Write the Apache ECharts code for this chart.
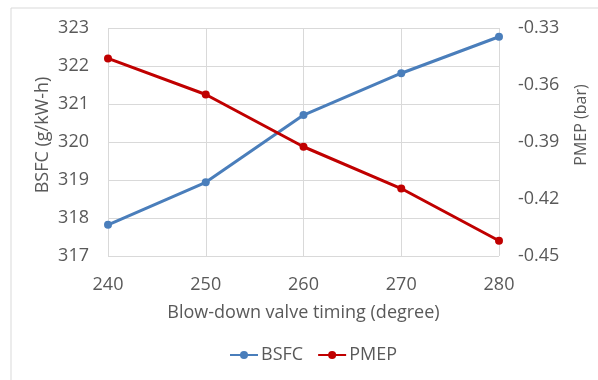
<!DOCTYPE html>
<html>
<head>
<meta charset="utf-8">
<script src="https://cdn.jsdelivr.net/npm/echarts@6/dist/echarts.min.js"></script>
<style>
  html, body { margin: 0; padding: 0; background: #fff; }
  #chart { width: 598px; height: 380px; }
</style>
</head>
<body>
<div id="chart"></div>
<script>
// Blow-down valve timing sweep: fuel consumption vs pumping loss
const timings = [240, 250, 260, 270, 280];
const bsfc = [317.82, 318.94, 320.71, 321.81, 322.77];
const pmep = [-0.346, -0.365, -0.3925, -0.4145, -0.442];

const textColor = '#595959';
const gridColor = '#d9d9d9';
const fontFamily = '"Open Sans", "Noto Sans", sans-serif';

const chart = echarts.init(document.getElementById('chart'), null, { renderer: 'canvas' });

chart.setOption({
  animation: false,
  textStyle: { fontFamily: fontFamily, color: textColor },
  graphic: [{
    type: 'rect',
    shape: { x: 11, y: 8, width: 600, height: 400 },
    style: { fill: 'none', stroke: gridColor, lineWidth: 1 },
    silent: true
  }, {
    // left axis title
    type: 'text',
    x: 43, y: 135, rotation: Math.PI / 2,
    style: {
      text: 'BSFC (g/kW-h)', fill: textColor, font: '18px ' + fontFamily,
      align: 'center', verticalAlign: 'middle'
    },
    silent: true
  }, {
    // right axis title
    type: 'text',
    x: 581, y: 125, rotation: Math.PI / 2,
    style: {
      text: 'PMEP (bar)', fill: textColor, font: '16px ' + fontFamily,
      align: 'center', verticalAlign: 'middle'
    },
    silent: true
  }],
  grid: { left: 108, right: 99, top: 28, bottom: 124 },
  legend: {
    bottom: 11,
    left: 224,
    itemWidth: 28,
    itemHeight: 10,
    itemGap: 14,
    textStyle: { fontSize: 18, color: textColor, fontFamily: fontFamily, padding: [0, 0, 0, -2] },
    data: ['BSFC', 'PMEP']
  },
  xAxis: {
    type: 'value',
    min: 240,
    max: 280,
    interval: 10,
    name: 'Blow-down valve timing (degree)',
    nameLocation: 'middle',
    nameGap: 48,
    nameTextStyle: { fontSize: 18, color: textColor },
    axisLine: { show: false },
    axisTick: { show: false },
    axisLabel: { fontSize: 18, color: textColor, margin: 20 },
    splitLine: { show: true, lineStyle: { color: gridColor, width: 1 } }
  },
  yAxis: [{
    type: 'value',
    position: 'left',
    min: 317,
    max: 323,
    interval: 1,
    axisLine: { show: false },
    axisTick: { show: false },
    axisLabel: { fontSize: 18, color: textColor, margin: 19 },
    splitLine: { show: true, lineStyle: { color: gridColor, width: 1 } }
  }, {
    type: 'value',
    position: 'right',
    min: -0.45,
    max: -0.33,
    interval: 0.03,
    axisLine: { show: false },
    axisTick: { show: false },
    axisLabel: {
      fontSize: 18, color: textColor, margin: 19,
      formatter: v => v.toFixed(2)
    },
    splitLine: { show: false }
  }],
  series: [{
    name: 'BSFC',
    type: 'line',
    yAxisIndex: 0,
    data: timings.map((t, i) => [t, bsfc[i]]),
    color: '#4a7ebb',
    lineStyle: { width: 3, color: '#4a7ebb' },
    symbol: 'circle',
    symbolSize: 8,
    itemStyle: { color: '#4a7ebb' }
  }, {
    name: 'PMEP',
    type: 'line',
    yAxisIndex: 1,
    data: timings.map((t, i) => [t, pmep[i]]),
    color: '#c00000',
    lineStyle: { width: 3, color: '#c00000' },
    symbol: 'circle',
    symbolSize: 8,
    itemStyle: { color: '#c00000' }
  }]
});
</script>
</body>
</html>
